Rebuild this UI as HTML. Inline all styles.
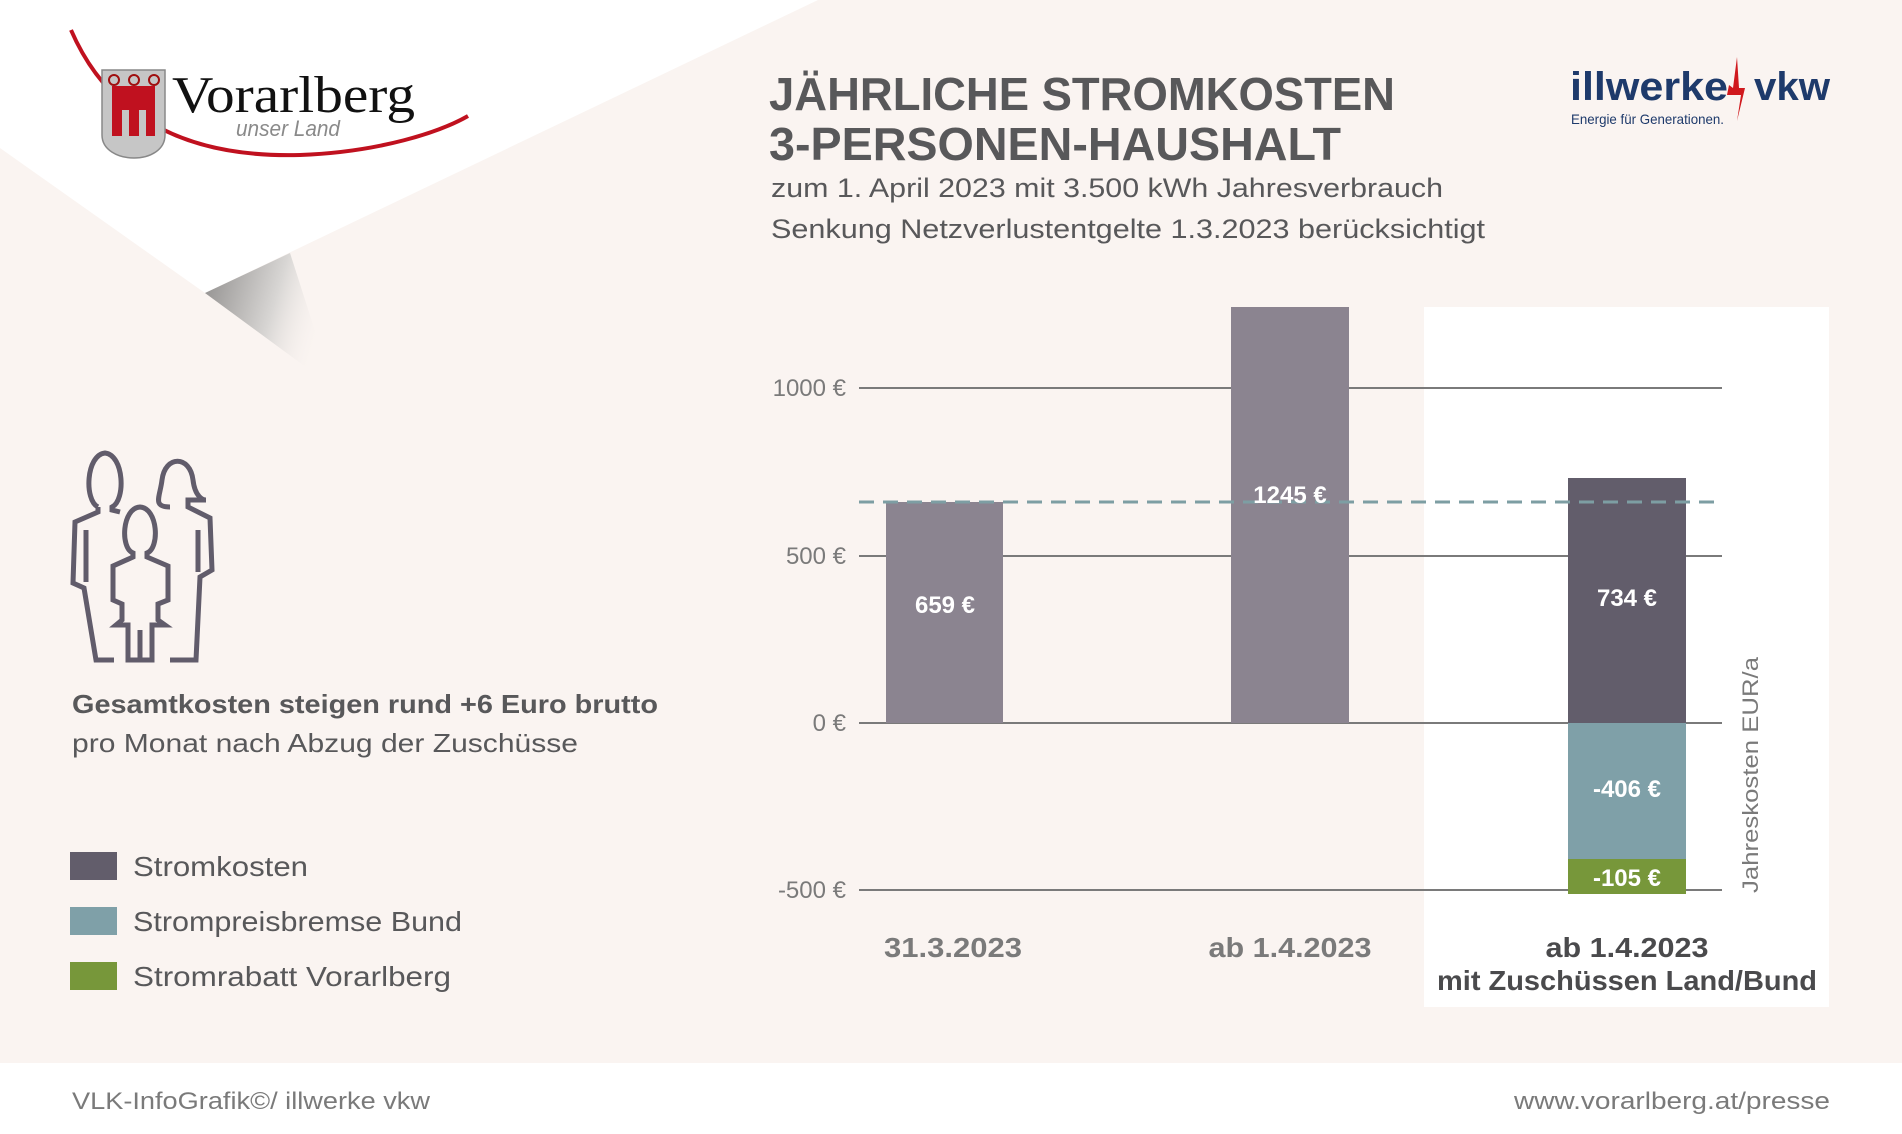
<!DOCTYPE html>
<html><head><meta charset="utf-8"><style>
html,body{margin:0;padding:0;background:#faf4f1}
svg{display:block}
text{font-family:"Liberation Sans",sans-serif}
</style></head><body>
<svg width="1902" height="1134" viewBox="0 0 1902 1134" xmlns="http://www.w3.org/2000/svg">
<defs>
<linearGradient id="sh" x1="0" y1="0" x2="1" y2="0.3">
<stop offset="0" stop-color="#8e8c8b"/><stop offset="0.6" stop-color="#d8d6d4"/><stop offset="1" stop-color="#faf4f1" stop-opacity="0"/>
</linearGradient>
</defs>
<rect width="1902" height="1134" fill="#faf4f1"/>
<polygon points="0,0 818,0 205,293 0,148" fill="#ffffff"/>
<polygon points="205,293 290,253 333,387" fill="url(#sh)"/>
<rect x="0" y="1063" width="1902" height="71" fill="#ffffff"/>

<!-- Vorarlberg logo -->
<path d="M71,30 C110,120 190,158 300,155 C380,152 440,132 468,116" fill="none" stroke="#c0111f" stroke-width="4"/>
<path d="M102,70 L165,70 L165,135 C165,150 150,158 134,158 C118,158 102,150 102,135 Z" fill="#c6c6c6" stroke="#888" stroke-width="1.5"/>
<rect x="112" y="86" width="43" height="50" fill="#c0111f"/>
<rect x="122" y="110" width="7" height="37" fill="#c6c6c6"/><rect x="139" y="110" width="7" height="37" fill="#c6c6c6"/>
<circle cx="114" cy="80" r="5" fill="none" stroke="#a01010" stroke-width="2"/><circle cx="134" cy="80" r="5" fill="none" stroke="#a01010" stroke-width="2"/><circle cx="154" cy="80" r="5" fill="none" stroke="#a01010" stroke-width="2"/>
<text x="172" y="112" style="font-family:'Liberation Serif',serif" font-size="52" fill="#111" textLength="243" lengthAdjust="spacingAndGlyphs">Vorarlberg</text>
<text x="236" y="136" font-size="22" font-style="italic" fill="#8a8a8a" textLength="104" lengthAdjust="spacingAndGlyphs">unser Land</text>

<!-- Title -->
<text x="769" y="110" font-size="46" font-weight="bold" fill="#58585a" textLength="626" lengthAdjust="spacingAndGlyphs">JÄHRLICHE STROMKOSTEN</text>
<text x="769" y="160" font-size="46" font-weight="bold" fill="#58585a" textLength="572" lengthAdjust="spacingAndGlyphs">3-PERSONEN-HAUSHALT</text>
<text x="771" y="197" font-size="27" fill="#58585a" textLength="672" lengthAdjust="spacingAndGlyphs">zum 1. April 2023 mit 3.500 kWh Jahresverbrauch</text>
<text x="771" y="238" font-size="27" fill="#58585a" textLength="714" lengthAdjust="spacingAndGlyphs">Senkung Netzverlustentgelte 1.3.2023 berücksichtigt</text>

<!-- illwerke vkw -->
<text x="1570" y="100" font-size="40" font-weight="bold" fill="#1e3a6b" textLength="158" lengthAdjust="spacingAndGlyphs">illwerke</text>
<text x="1754" y="100" font-size="40" font-weight="bold" fill="#1e3a6b" textLength="76" lengthAdjust="spacingAndGlyphs">vkw</text>
<polygon points="1737,57 1733,88 1729,85 1727,95 1741,95 1737,121 1745,88 1739,88" fill="#d0191e"/>
<text x="1571" y="124" font-size="14" fill="#1e3a6b" textLength="153" lengthAdjust="spacingAndGlyphs">Energie für Generationen.</text>

<!-- white panel -->
<rect x="1424" y="307" width="405" height="700" fill="#ffffff"/>

<!-- gridlines -->
<g stroke="#7a7a7a" stroke-width="2">
<line x1="859" y1="388" x2="1722" y2="388"/>
<line x1="859" y1="556" x2="1722" y2="556"/>
<line x1="859" y1="723" x2="1722" y2="723"/>
<line x1="859" y1="890" x2="1722" y2="890"/>
</g>
<g font-size="24" fill="#7a7a7a" text-anchor="end">
<text x="846" y="396">1000 €</text>
<text x="846" y="564">500 €</text>
<text x="846" y="731">0 €</text>
<text x="846" y="898">-500 €</text>
</g>

<!-- bars -->
<rect x="886" y="502" width="117" height="221" fill="#8b8490"/>
<rect x="1231" y="307" width="118" height="416" fill="#8b8490"/>
<rect x="1568" y="478" width="118" height="245" fill="#625d6b"/>
<rect x="1568" y="723" width="118" height="136" fill="#7fa0a8"/>
<rect x="1568" y="859" width="118" height="35" fill="#77973a"/>

<line x1="859" y1="502" x2="1722" y2="502" stroke="#7d9ea3" stroke-width="3" stroke-dasharray="15,9"/>

<g font-size="24" font-weight="bold" fill="#ffffff" text-anchor="middle">
<text x="945" y="613">659 €</text>
<text x="1290" y="503">1245 €</text>
<text x="1627" y="606">734 €</text>
<text x="1627" y="797">-406 €</text>
<text x="1627" y="886">-105 €</text>
</g>

<g font-size="28" font-weight="bold" text-anchor="middle">
<text x="953" y="957" fill="#7a7a7a" textLength="138" lengthAdjust="spacingAndGlyphs">31.3.2023</text>
<text x="1290" y="957" fill="#7a7a7a" textLength="163" lengthAdjust="spacingAndGlyphs">ab 1.4.2023</text>
<text x="1627" y="957" fill="#4a4a4c" textLength="163" lengthAdjust="spacingAndGlyphs">ab 1.4.2023</text>
<text x="1627" y="990" fill="#4a4a4c" textLength="380" lengthAdjust="spacingAndGlyphs">mit Zuschüssen Land/Bund</text>
</g>
<text transform="translate(1758,775) rotate(-90)" font-size="22" fill="#7a7a7a" text-anchor="middle" textLength="236" lengthAdjust="spacingAndGlyphs">Jahreskosten EUR/a</text>

<!-- family icon -->
<g fill="none" stroke="#615c6b" stroke-width="5" stroke-linejoin="miter">
<path d="M98,507 C84,500 86,455 105,453 C124,455 126,500 112,507 L112,510 L120,512"/>
<path d="M98,507 L98,512 L75,522 L73,583 L84,588 L96,660 L114,660"/>
<line x1="86" y1="530" x2="86" y2="582"/>
<path d="M170,507 C152,507 160,497 162,480 C165,455 190,455 193,480 C195,497 203,500 206,500 L188,500 L188,507 L210,518 L212,570 L200,577 L196,660 L170,660"/>
<line x1="198" y1="530" x2="198" y2="572"/>
<path d="M133,553 C120,548 122,508 140,507 C158,508 160,548 147,553 L147,557 L168,566 L168,600 L158,604 L158,620 L165,625 L152,625 L152,660 L140,660 L140,630 L140,660 L128,660 L128,625 L116,625 L122,620 L122,604 L113,600 L113,566 L133,557 Z"/>
</g>

<text x="72" y="713" font-size="26" font-weight="bold" fill="#58585a" textLength="586" lengthAdjust="spacingAndGlyphs">Gesamtkosten steigen rund +6 Euro brutto</text>
<text x="72" y="752" font-size="26" fill="#58585a" textLength="506" lengthAdjust="spacingAndGlyphs">pro Monat nach Abzug der Zuschüsse</text>

<!-- legend -->
<rect x="70" y="852" width="47" height="28" fill="#625d6b"/>
<rect x="70" y="907" width="47" height="28" fill="#7fa0a8"/>
<rect x="70" y="962" width="47" height="28" fill="#77973a"/>
<g font-size="28" fill="#58585a">
<text x="133" y="876" textLength="175" lengthAdjust="spacingAndGlyphs">Stromkosten</text>
<text x="133" y="931" textLength="329" lengthAdjust="spacingAndGlyphs">Strompreisbremse Bund</text>
<text x="133" y="986" textLength="318" lengthAdjust="spacingAndGlyphs">Stromrabatt Vorarlberg</text>
</g>

<!-- footer -->
<text x="72" y="1109" font-size="24" fill="#7a7a7a" textLength="358" lengthAdjust="spacingAndGlyphs">VLK-InfoGrafik©/ illwerke vkw</text>
<text x="1830" y="1109" font-size="24" fill="#7a7a7a" text-anchor="end" textLength="316" lengthAdjust="spacingAndGlyphs">www.vorarlberg.at/presse</text>
</svg>
</body></html>
